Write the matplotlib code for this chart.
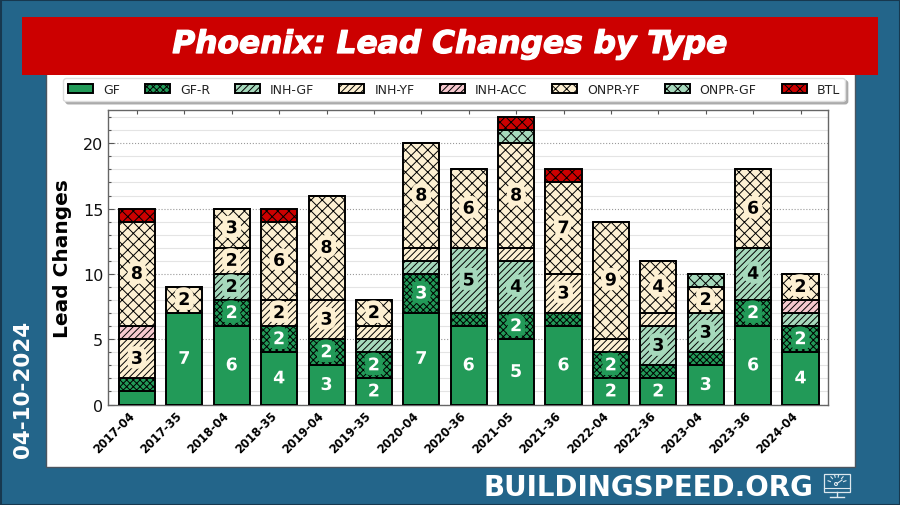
import numpy as np
import matplotlib
matplotlib.use("Agg")
import matplotlib.pyplot as plt
import matplotlib.patheffects as pe
from matplotlib.patches import Rectangle, Circle
from matplotlib.ticker import MultipleLocator

races = ["2017-04","2017-35","2018-04","2018-35","2019-04","2019-35","2020-04","2020-36",
         "2021-05","2021-36","2022-04","2022-36","2023-04","2023-36","2024-04"]
GF      = [1,7,6,4,3,2,7,6,5,6,2,2,3,6,4]
GF_R    = [1,0,2,2,2,2,3,1,2,1,2,1,1,2,2]
INH_GF  = [0,0,2,0,0,1,1,5,4,0,0,3,3,4,1]
INH_YF  = [3,0,2,2,3,1,1,0,1,3,1,1,0,0,0]
INH_ACC = [1,0,0,0,0,0,0,0,0,0,0,0,0,0,1]
ONPR_YF = [8,2,3,6,8,2,8,6,8,7,9,4,2,6,2]
ONPR_GF = [0,0,0,0,0,0,0,0,1,0,0,0,1,0,0]
BTL     = [1,0,0,1,0,0,0,0,1,1,0,0,0,0,0]
names = ["GF","GF-R","INH-GF","INH-YF","INH-ACC","ONPR-YF","ONPR-GF","BTL"]
series = [GF,GF_R,INH_GF,INH_YF,INH_ACC,ONPR_YF,ONPR_GF,BTL]
colors = ["#229A58","#229A58","#A6D9BC","#FDF0D2","#F6C9CF","#FDF0D2","#A6D9BC","#CC0000"]
hatches = [None,"xxxxx","/////","/////","/////","xxx","xxx","xxx"]
title = "Phoenix: Lead Changes by Type"
date_text = "04-10-2024"
site = "BUILDINGSPEED.ORG"

W,H = 900,506
plt.rcParams["hatch.linewidth"] = 0.7
fig = plt.figure(figsize=(W/100,H/100),dpi=100,facecolor="#23658A")

bg = fig.add_axes([0,0,1,1],zorder=0)
bg.set_xlim(0,W); bg.set_ylim(H,0); bg.axis("off")
bg.add_patch(Rectangle((0.5,0.5),W-1,H-1,fc="none",ec="#17384F",lw=1.5))
bg.add_patch(Rectangle((46,70),809,398,fc="white",ec="#4A5560",lw=1))
bg.add_patch(Rectangle((22,18),856,58,fc="#CC0000",ec="none"))
bg.text(450,45.5,title,color="white",fontsize=22.5,fontweight="bold",fontstyle="italic",
        ha="center",va="center",family="DejaVu Sans",
        path_effects=[pe.withStroke(linewidth=0.9,foreground="white")])
bg.text(23.5,389.5,date_text,color="white",fontsize=15.5,fontweight="bold",rotation=90,
        ha="center",va="center",family="DejaVu Sans")
bg.text(648.5,488,site,color="white",fontsize=20,fontweight="bold",
        ha="center",va="center",family="DejaVu Sans")
ic = "#DDE8EE"
bg.add_patch(Rectangle((824,475),26,18,fc="none",ec=ic,lw=0.9))
bg.plot([824,850],[489,489],color=ic,lw=0.8)
bg.plot([837,837],[493,497],color=ic,lw=1)
bg.plot([830,844],[497.5,497.5],color=ic,lw=1)
bg.add_patch(Circle((836,485),1.5,fc="none",ec=ic,lw=0.8))
bg.plot([837,842],[484.5,481],color=ic,lw=0.8)
for a in np.deg2rad([-160,-130,-105,-80,-50,-20]):
    bg.plot([837+7*np.cos(a),837+9.5*np.cos(a)],[485+7*np.sin(a),485+9.5*np.sin(a)],color=ic,lw=0.8)

ax = fig.add_axes([108/W,1-405.5/H,720/W,294.5/H],zorder=1)
x = np.arange(len(races))
bottom = np.zeros(len(races))
handles = []
for vals,name,c,h in zip(series,names,colors,hatches):
    vals = np.array(vals)
    b = ax.bar(x,vals,0.76,bottom=bottom,color=c,edgecolor="black",hatch=h,linewidth=1.4,label=name,zorder=3)
    handles.append(b)
    txt = "white" if name in ("GF","GF-R") else "black"
    for xi,v,bo in zip(x,vals,bottom):
        if v >= 2:
            ax.text(xi,bo+v/2,str(v),ha="center",va="center",fontsize=12.5,fontweight="bold",color=txt,zorder=5,
                    path_effects=[pe.withStroke(linewidth=7,foreground=c)])
    bottom += vals

ax.set_xlim(-0.61,14.58)
ax.set_ylim(0,22.55)
ax.yaxis.set_major_locator(MultipleLocator(5))
ax.yaxis.set_minor_locator(MultipleLocator(1))
ax.grid(which="major",axis="y",color="#9A9A9A",ls=":",lw=0.8,zorder=0)
ax.grid(which="minor",axis="y",color="#E4E4E4",ls="-",lw=0.8,zorder=0)
ax.set_axisbelow(True)
ax.set_xticks(x)
ax.set_xticklabels(races,rotation=45,ha="right",fontsize=8.3,fontweight="bold")
ax.tick_params(axis="x",which="major",direction="in",top=True,bottom=True,length=3,color="#555555",width=0.8,pad=3)
ax.tick_params(axis="y",which="both",direction="in",left=True,right=False,color="#555555",width=0.8)
ax.tick_params(axis="y",which="major",length=4,labelsize=11.5,labelcolor="#111111")
ax.tick_params(axis="y",which="minor",length=2)
for s in ax.spines.values():
    s.set_color("#666666"); s.set_linewidth(1)
ax.set_ylabel("Lead Changes",fontsize=14.5,fontweight="bold",labelpad=8)

fig.legend(handles=handles,labels=names,ncol=8,loc="upper center",bbox_to_anchor=(454/W,1-79/H),
           fontsize=9,shadow={"color":"#AAAAAA","alpha":1},frameon=True,fancybox=True,framealpha=1,
           edgecolor="#DDDDDD",borderaxespad=0,labelcolor="#222222",handleheight=0.8,borderpad=0.4,columnspacing=2.0)
fig.savefig("out.png",dpi=100,facecolor=fig.get_facecolor())
